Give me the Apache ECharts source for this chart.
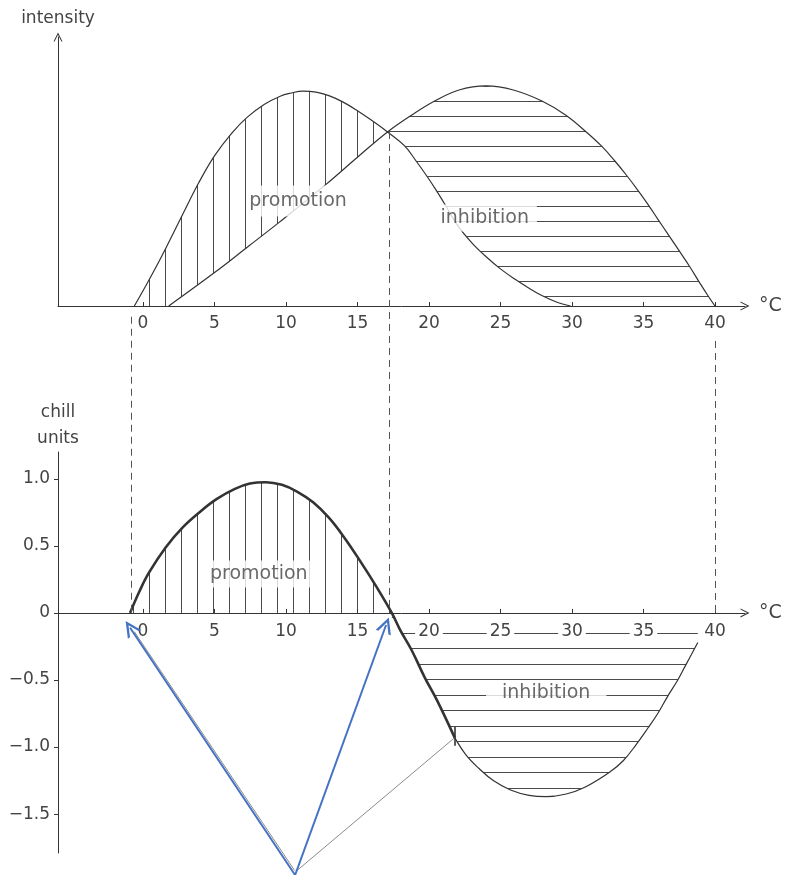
<!DOCTYPE html>
<html>
<head>
<meta charset="utf-8">
<script src="https://cdn.jsdelivr.net/npm/echarts@6/dist/echarts.min.js"></script>
<style>
  html, body { margin: 0; background: #fff; }
  #main { width: 786px; height: 875px; }
</style>
</head>
<body>
<div id="main"></div>
<script>
// top panel: intensity of the two processes (arbitrary units 0-100)
const promoT = [-0.6, 0.5, 1.6, 2.8, 3.9, 5.0, 6.2, 7.3, 8.5, 9.6, 10.3, 11.2, 12.1, 13.0, 14.0, 15.0, 16.1, 17.1, 18.3, 19.1, 19.8, 20.5, 21.1, 22.0, 23.0, 24.0, 25.0, 26.0, 27.0, 28.0, 29.0, 29.9]
const promoI = [0, 10.4, 21.5, 34.3, 45.8, 55.8, 64.2, 70.2, 75, 78, 79.1, 79.9, 79.5, 78.2, 75.8, 72.6, 68.6, 64.7, 59.5, 53.9, 48.7, 43.1, 37.9, 30, 23.5, 18.3, 13.8, 10, 6.6, 3.6, 1.3, 0]
const inhibT = [1.8, 5.1, 7.4, 9.5, 12.8, 15.0, 17.1, 18.8, 20.4, 22.1, 24.0, 25.9, 27.9, 29.55, 31.0, 32.06, 33.0, 33.8, 34.6, 35.3, 36.0, 36.7, 37.55, 38.25, 38.9, 39.5, 40.0]
const inhibI = [0, 12.8, 22.3, 31, 45.2, 55.3, 64.7, 71, 76.2, 80.3, 81.8, 80.3, 76.2, 71, 64.7, 59.5, 53.9, 48.7, 43.1, 37.9, 32.3, 26.8, 20.1, 14.5, 8.9, 3.9, 0]
const crossT = 17.1

// bottom panel: chill units
const chillT = [-0.9, -0.25, 0.42, 1.6, 2.8, 4.06, 5.17, 6.43, 7.48, 8.6, 9.72, 10.77, 11.9, 13.0, 14.06, 15.17, 16.3, 17.4, 18.0, 18.8, 19.7, 20.6, 21.8, 22.6, 23.5, 24.5, 25.7, 27.0, 28.2, 29.6, 30.9, 32.6, 33.6, 34.5, 35.3, 36.0, 36.7, 37.4, 38.0, 38.8]
const chillU = [0, 0.16, 0.3, 0.49, 0.64, 0.76, 0.85, 0.925, 0.965, 0.975, 0.955, 0.905, 0.825, 0.71, 0.565, 0.39, 0.2, 0, -0.13, -0.28, -0.48, -0.66, -0.93, -1.06, -1.16, -1.25, -1.32, -1.36, -1.37, -1.35, -1.3, -1.19, -1.1, -0.98, -0.86, -0.75, -0.62, -0.5, -0.38, -0.22]
const zeroT = 17.4
const thickEndT = 21.8

const tempTicks = [0, 5, 10, 15, 20, 25, 30, 35, 40]
const chillTicks = [-1.5, -1, -0.5, 0, 0.5, 1]

// dashed guides between the panels (temperature, top end in intensity units)
const guideT = [-0.8, 17.25, 40]
const guideTopI = [-4, 64.7, -13]

// layout
const left = 58, right = 41
const topY = 37, topH = 269
const botY = 452, botH = 401, chillMin = -1.79, chillMax = 1.2
const pxPerChill = botH / (chillMax - chillMin)
const zeroPx = botY + chillMax * pxPerChill
const ovMax = chillMax + (botY - topY) / pxPerChill
const ovMin = chillMin - (875 - botY - botH) / pxPerChill
const intensityToOv = v => (zeroPx - (topY + topH - v * topH / 100)) / pxPerChill

const ink = '#333'
const txt = '#444'
const font = 'DejaVu Sans'
const chevron = 'path://M0,10 L5,0 L10,10 L8.8,10 L5,2.6 L1.2,10 Z'
const blueHead = 'path://M0,10 L5,0 L10,10 L8.4,10 L5,3.2 L1.6,10 Z'

const pairs = (xs, ys) => xs.map((x, i) => [x, ys[i]])
const promo = pairs(promoT, promoI)
const inhib = pairs(inhibT, inhibI)
const chill = pairs(chillT, chillU)

// hatch patterns
const hatch = (w, h, dir, offsets) => {
  const c = document.createElement('canvas')
  c.width = w; c.height = h
  const g = c.getContext('2d')
  g.fillStyle = '#4a4a4a'
  offsets.forEach(o => dir === 'v' ? g.fillRect(o, 0, 1, h) : g.fillRect(0, o, w, 1))
  return { image: c, repeat: 'repeat' }
}
const vHatch = hatch(16, 4, 'v', [5])
const hHatchTop = hatch(4, 15, 'h', [11])
const hHatchBot = hatch(4, 31, 'h', [13, 28])

const topPromoPoly = promo.filter(p => p[0] <= crossT).concat(inhib.filter(p => p[0] <= crossT).reverse())
const topInhibPoly = inhib.filter(p => p[0] >= crossT).concat(promo.filter(p => p[0] >= crossT).reverse())
const botPromoPoly = chill.filter(p => p[0] <= zeroT)
const lastT = chillT[chillT.length - 1]
const botInhibPoly = chill.filter(p => p[0] >= zeroT).concat([[lastT, -0.1], [zeroT, -0.1]])

const polySeries = (idx, pts, fill) => ({
  type: 'custom', xAxisIndex: idx, yAxisIndex: idx, data: [[0, 0]], z: 1, silent: true,
  renderItem: (params, api) => ({
    type: 'polygon',
    shape: { points: pts.map(p => api.coord(p)) },
    style: { fill: fill, stroke: null }
  })
})

const curve = (idx, data, width) => ({
  type: 'line', xAxisIndex: idx, yAxisIndex: idx, data: data, symbol: 'none',
  smooth: 0.4, z: 3, silent: true,
  lineStyle: { color: ink, width: width }
})

const textMark = (idx, pos, text, padding) => ({
  type: 'scatter', xAxisIndex: idx, yAxisIndex: idx, data: [pos], symbolSize: 1, z: 5, silent: true,
  itemStyle: { color: 'rgba(0,0,0,0)' },
  label: {
    show: true, position: 'inside', formatter: text, fontSize: 19, color: txt, fontFamily: font,
    backgroundColor: '#fff', padding: padding
  }
})

const xAxisBase = idx => ({
  type: 'value', gridIndex: idx, min: -5.94, max: 42.1, splitLine: { show: false },
  axisLine: { show: true, onZero: false, symbol: ['none', chevron], symbolSize: [9, 11], lineStyle: { color: ink, width: 1 } },
  axisTick: { show: true, inside: true, length: 4, customValues: tempTicks, lineStyle: { color: ink } },
  axisLabel: { customValues: tempTicks, color: txt, fontSize: 17, margin: 9, fontFamily: font },
  name: '°C', nameLocation: 'end', nameGap: 14,
  nameTextStyle: { fontSize: 19, color: txt, fontFamily: font }
})

const thickEndU = chillU[chillT.indexOf(thickEndT)]
const arrowBase = [10.64, -1.954]
const arrowTips = [[-0.9, -0.11], [17.0, -0.09]]

const chartDom = document.getElementById('main')
const myChart = echarts.init(chartDom)

const option = {
  animation: false,
  textStyle: { fontFamily: font },
  grid: [
    { left: left, right: right, top: topY, height: topH },
    { left: left, right: right, top: botY, height: botH },
    { left: left, right: right, top: topY, bottom: 0 }
  ],
  xAxis: [
    xAxisBase(0),
    Object.assign(xAxisBase(1), {
      z: 2,
      // put the axis on the zero line of chill units
      offset: -(botY + botH - zeroPx),
      axisLabel: { customValues: tempTicks, color: txt, fontSize: 17, margin: 9, fontFamily: font, backgroundColor: '#fff', padding: [1, 3] }
    }),
    { type: 'value', gridIndex: 2, min: -5.94, max: 42.1, show: false }
  ],
  yAxis: [
    {
      type: 'value', gridIndex: 0, min: 0, max: 100, splitLine: { show: false },
      axisLine: { show: true, onZero: false, symbol: ['none', chevron], symbolSize: [9, 11], lineStyle: { color: ink, width: 1 } },
      axisTick: { show: false }, axisLabel: { show: false },
      name: 'intensity', nameLocation: 'end', nameGap: 10,
      nameTextStyle: { fontSize: 17, color: txt, align: 'center', fontFamily: font }
    },
    {
      type: 'value', gridIndex: 1, min: chillMin, max: chillMax, splitLine: { show: false },
      axisLine: { show: true, onZero: false, lineStyle: { color: ink, width: 1 } },
      axisTick: { show: true, length: 4, customValues: chillTicks, lineStyle: { color: ink } },
      axisLabel: {
        customValues: chillTicks, color: txt, fontSize: 17, margin: 8, fontFamily: font,
        formatter: v => v === 0 ? '0' : (v < 0 ? '−' : '') + Math.abs(v).toFixed(1)
      },
      name: 'chill\nunits', nameLocation: 'end', nameGap: 0,
      nameTextStyle: { fontSize: 17, lineHeight: 26, color: txt, align: 'center', fontFamily: font }
    },
    { type: 'value', gridIndex: 2, min: ovMin, max: ovMax, show: false }
  ],
  series: [
    polySeries(0, topPromoPoly, vHatch),
    polySeries(0, topInhibPoly, hHatchTop),
    polySeries(1, botPromoPoly, vHatch),
    polySeries(1, botInhibPoly, hHatchBot),
    curve(0, promo, 1.2),
    curve(0, inhib, 1.2),
    curve(1, chill.filter(p => p[0] <= thickEndT), 2.6),
    curve(1, chill.filter(p => p[0] >= thickEndT), 1.2),
    textMark(0, [10.85, 39], 'promotion', [6, 3]),
    textMark(0, [23.9, 32.7], 'inhibition', [4, 8]),
    textMark(1, [8.1, 0.29], 'promotion', [4, 3]),
    textMark(1, [28.2, -0.6], 'inhibition', [3, 16]),
    {
      // dashed guides linking the panels
      type: 'lines', coordinateSystem: 'cartesian2d', xAxisIndex: 2, yAxisIndex: 2, z: 4, silent: true,
      lineStyle: { color: '#555', width: 1, type: [7, 5], opacity: 1 },
      data: guideT.map((t, i) => ({ coords: [[t, intensityToOv(guideTopI[i])], [t, 0]] }))
    },
    {
      // leader lines and the end mark of the thick curve
      type: 'lines', coordinateSystem: 'cartesian2d', xAxisIndex: 2, yAxisIndex: 2, z: 4, silent: true,
      lineStyle: { color: '#8a8a8a', width: 1, opacity: 1 },
      data: [
        { coords: [[10.78, -1.92], [thickEndT, thickEndU]] },
        { coords: [[10.6, -1.92], [-0.6, -0.14]] },
        { coords: [[thickEndT, thickEndU + 0.08], [thickEndT, thickEndU - 0.06]], lineStyle: { color: ink, width: 1.6 } }
      ]
    },
    {
      type: 'lines', coordinateSystem: 'cartesian2d', xAxisIndex: 2, yAxisIndex: 2, z: 6, silent: true,
      symbol: ['none', blueHead], symbolSize: [13, 16],
      lineStyle: { color: '#4472c4', width: 2, opacity: 1 },
      data: arrowTips.map(tip => ({ coords: [arrowBase, tip] }))
    }
  ]
}

myChart.setOption(option)
</script>
</body>
</html>
